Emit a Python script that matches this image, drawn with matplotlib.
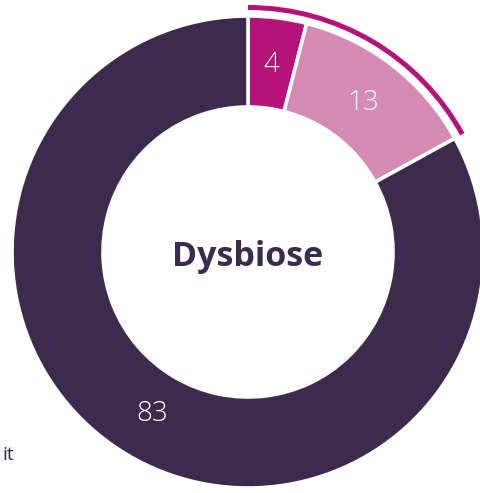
import matplotlib
matplotlib.use("Agg")
import matplotlib.pyplot as plt
from matplotlib.patches import Wedge
import numpy as np

values = [4, 13, 83]
labels = ["4", "13", "83"]
colors = ["#b5127a", "#d58ab3", "#3c2b4d"]
highlight_count = 2  # first two slices highlighted by outer arc
center_text = "Dysbiose"
side_text = "it"

W, H = 481, 493
fig = plt.figure(figsize=(W / 100, H / 100), dpi=100)
ax = fig.add_axes([0, 0, 1, 1])

cx, cy = 248, H - 252
R = 236
ring_w = 91

wedges, _ = ax.pie(values, radius=R, center=(cx, cy), startangle=90,
                   counterclock=False, colors=colors,
                   wedgeprops=dict(width=ring_w, edgecolor="white", linewidth=2.6))

total = sum(values)
ang = 90.0
for v, lab in zip(values, labels):
    span = v / total * 360
    mid = np.deg2rad(ang - span / 2)
    rr = R - ring_w / 2 - 2
    ax.text(cx + rr * np.cos(mid), cy + rr * np.sin(mid), lab, color="white",
            fontsize=20, ha="center", va="center", family="Open Sans",
            fontweight="light")
    ang -= span

hl = sum(values[:highlight_count]) / total * 360
ax.add_patch(Wedge((cx, cy), 247, 90 - hl, 90, width=5, color=colors[0], lw=0))

ax.text(cx, cy - 5, center_text, color="#3c2b4d", fontsize=24.5, fontweight="bold",
        ha="center", va="center", family="Open Sans")

ax.text(2, H - 455, side_text, color="#3c2b4d", fontsize=14, ha="left", va="center",
        family="Open Sans")

ax.set_xlim(0, W)
ax.set_ylim(0, H)
ax.set_aspect("equal")
ax.axis("off")
fig.savefig("out.png", dpi=100)
